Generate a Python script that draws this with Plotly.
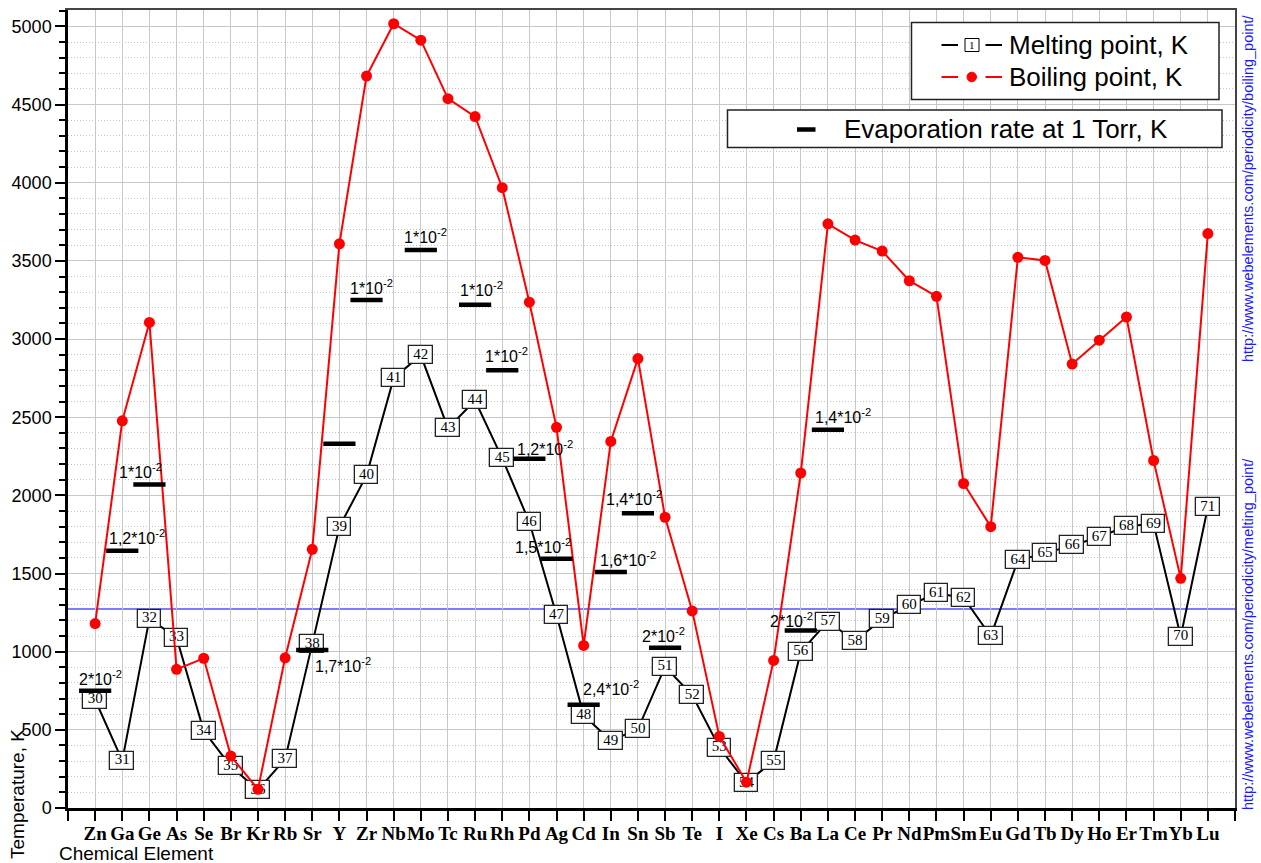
import plotly.graph_objects as go

# ---- data -------------------------------------------------------------
ELEMENTS = ["Zn", "Ga", "Ge", "As", "Se", "Br", "Kr", "Rb", "Sr", "Y", "Zr", "Nb",
            "Mo", "Tc", "Ru", "Rh", "Pd", "Ag", "Cd", "In", "Sn", "Sb", "Te", "I",
            "Xe", "Cs", "Ba", "La", "Ce", "Pr", "Nd", "Pm", "Sm", "Eu", "Gd", "Tb",
            "Dy", "Ho", "Er", "Tm", "Yb", "Lu"]
ATOMIC_NUMBERS = list(range(30, 72))

MELTING_K = [692.7, 302.9, 1211.4, 1090, 494, 265.8, 115.8, 312.5, 1050, 1799,
             2128, 2750, 2896, 2430, 2607, 2237, 1828, 1235, 594.2, 429.8, 505.1,
             903.8, 722.7, 386.9, 161.4, 301.6, 1000, 1193, 1068, 1208, 1297, 1373,
             1345, 1099, 1585, 1629, 1680, 1734, 1802, 1818, 1097, 1925]

BOILING_K = [1180, 2477, 3106, 887, 958, 332, 119.9, 961, 1655, 3609, 4682, 5017,
             4912, 4538, 4423, 3968, 3236, 2435, 1040, 2345, 2875, 1860, 1261, 457.4,
             165.1, 944, 2143, 3737, 3633, 3563, 3373, 3273, 2076, 1800, 3523, 3503,
             2840, 2993, 3141, 2223, 1469, 3675]

# temperature for an evaporation rate at 1 Torr, with the rate mantissa (x10^-2)
EVAP_Z = [30, 31, 32, 38, 39, 40, 42, 44, 45, 46, 47, 48, 49, 50, 51, 56, 57]
EVAP_K = [750, 1645, 2070, 1010, 2330, 3250, 3570, 3220, 2800, 2235, 1595, 660,
          1510, 1885, 1025, 1135, 2420]
EVAP_RATE = ["2", "1,2", "1", "1,7", "", "1", "1", "1", "1", "1,2", "1,5", "2,4",
             "1,6", "1,4", "2", "2", "1,4"]

REF_LINE_K = 1273  # 1000 °C

# ---- layout constants ------------------------------------------------------
W, H = 1261, 863
ML, MR, MT, MB = 68, 26, 10, 55
PW, PH = W - ML - MR, H - MT - MB
X_RANGE = [29, 72]
Y_RANGE = [0, 5105]
BOX_H = 115          # label box height in K
BOX_W = 0.87         # label box width in x units

# offset (px) of each rate label from its dash: right, down
LABEL_SHIFT = [(5, -13), (15, -14), (-9, -13), (31, 15), None, (5, -13), (5, -14),
               (6, -16), (4, -15), (16, -11), (-14, -13), (27, -17), (17, -13),
               (-4, -15), (-2, -13), (-9, -11), (15, -14)]

SANS = "Liberation Sans"
SERIF = "Liberation Serif"


def px_x(x):
    return (x - ML) / PW


def px_y(y):
    return (H - MB - y) / PH


fig = go.Figure()

# melting-point line (base subplot, under the label boxes)
fig.add_trace(go.Scatter(x=ATOMIC_NUMBERS, y=MELTING_K, mode="lines",
                         line=dict(color="black", width=2), showlegend=False))

# label boxes carrying the atomic number
fig.add_trace(go.Bar(x=ATOMIC_NUMBERS, y=[BOX_H] * len(MELTING_K),
                     base=[m - BOX_H / 2 for m in MELTING_K], width=BOX_W,
                     marker=dict(color="white", line=dict(color="#222", width=1.3)),
                     xaxis="x2", yaxis="y2", showlegend=False))
fig.add_trace(go.Scatter(x=ATOMIC_NUMBERS, y=MELTING_K, mode="text",
                         text=[str(z) for z in ATOMIC_NUMBERS],
                         textposition="middle center",
                         textfont=dict(family=SERIF, size=15, color="black"),
                         xaxis="x2", yaxis="y2", showlegend=False))

# boiling points
fig.add_trace(go.Scatter(x=ATOMIC_NUMBERS, y=BOILING_K, mode="lines+markers",
                         line=dict(color="#ff0000", width=2),
                         marker=dict(color="#ff0000", size=11),
                         xaxis="x2", yaxis="y2", showlegend=False))

# evaporation temperatures
fig.add_trace(go.Scatter(x=EVAP_Z, y=EVAP_K, mode="markers",
                         marker=dict(symbol="line-ew", size=23,
                                     line=dict(color="black", width=4.5)),
                         xaxis="x2", yaxis="y2", showlegend=False))

annotations = []
for z, k, rate, shift in zip(EVAP_Z, EVAP_K, EVAP_RATE, LABEL_SHIFT):
    if not rate:
        continue
    annotations.append(dict(x=z, y=k, xref="x", yref="y", showarrow=False,
                            text=f"{rate}*10<sup>-2</sup>",
                            font=dict(family=SANS, size=16, color="black"),
                            xanchor="center", yanchor="middle",
                            xshift=shift[0], yshift=-shift[1]))

# axis titles
annotations.append(dict(x=px_x(57), y=px_y(853), xref="paper", yref="paper",
                        text="Chemical Element", showarrow=False, xanchor="left",
                        yanchor="middle", font=dict(family=SANS, size=19, color="black")))
annotations.append(dict(x=px_x(17), y=px_y(794), xref="paper", yref="paper",
                        text="Temperature, K", showarrow=False, textangle=-90,
                        xanchor="center", yanchor="middle",
                        font=dict(family=SANS, size=19, color="black")))

# source links
for txt, cy in [("http://www.webelements.com/periodicity/boiling_point/", 188),
                ("http://www.webelements.com/periodicity/melting_point/", 634)]:
    annotations.append(dict(x=px_x(1248), y=px_y(cy), xref="paper", yref="paper",
                            text=txt, showarrow=False, textangle=-90,
                            xanchor="center", yanchor="middle",
                            font=dict(family=SANS, size=14.5, color="#1a1aff")))

# legend texts
for txt, lx, ly in [("Melting point, K", 1007, 45), ("Boiling point, K", 1007, 77),
                    ("Evaporation rate at 1 Torr, K", 842, 129)]:
    annotations.append(dict(x=px_x(lx), y=px_y(ly), xref="paper", yref="paper",
                            text=txt, showarrow=False, xanchor="left",
                            yanchor="middle",
                            font=dict(family=SANS, size=26, color="black")))
annotations.append(dict(x=px_x(972), y=px_y(45), xref="paper", yref="paper",
                        text="1", showarrow=False, xanchor="center", yanchor="middle",
                        font=dict(family=SERIF, size=11, color="black")))


def rect(x0, y0, x1, y1, **kw):
    return dict(type="rect", xref="paper", yref="paper", x0=px_x(x0), x1=px_x(x1),
                y0=px_y(y0), y1=px_y(y1), layer="above", **kw)


def seg(x0, y0, x1, y1, color, width):
    return dict(type="line", xref="paper", yref="paper", x0=px_x(x0), x1=px_x(x1),
                y0=px_y(y0), y1=px_y(y1), layer="above",
                line=dict(color=color, width=width))


shapes = [
    dict(type="line", xref="paper", x0=0, x1=1, yref="y", y0=REF_LINE_K,
         y1=REF_LINE_K, layer="between", line=dict(color="rgb(80,80,255)", width=1.5)),
    rect(911.5, 22.5, 1219, 99.5, line=dict(color="#222", width=1.5), fillcolor="white"),
    rect(727.5, 110, 1222, 147.5, line=dict(color="#222", width=1.5), fillcolor="white"),
    seg(941.5, 45, 958, 45, "black", 2),
    seg(985.5, 45, 1002, 45, "black", 2),
    rect(965, 38.5, 979, 51.5, line=dict(color="black", width=1), fillcolor="white"),
    seg(941.5, 77, 958, 77, "#ff0000", 2),
    seg(985.5, 77, 1002, 77, "#ff0000", 2),
    dict(type="circle", xref="paper", yref="paper", x0=px_x(967), x1=px_x(976.5),
         y0=px_y(72.2), y1=px_y(81.8), layer="above", fillcolor="#ff0000",
         line=dict(color="#ff0000", width=1)),
    seg(797, 129.5, 815.5, 129.5, "black", 4.5),
]

fig.update_layout(
    width=W, height=H,
    margin=dict(l=ML, r=MR, t=MT, b=MB, pad=0, autoexpand=False),
    paper_bgcolor="white", plot_bgcolor="white",
    showlegend=False,
    bargap=0,
    xaxis=dict(range=X_RANGE, tickmode="array",
               tickvals=list(range(X_RANGE[0], X_RANGE[1] + 1)),
               ticktext=[""] + ELEMENTS + [""], tickangle=0, automargin=False,
               ticklabelstandoff=-4,
               tickfont=dict(family=SERIF, size=19, color="black", weight="bold"),
               ticks="outside", ticklen=10, tickwidth=2, tickcolor="black",
               showline=True, linecolor="black", linewidth=2.5,
               showgrid=True, gridcolor="#c8c8c8", gridwidth=1, zeroline=False),
    yaxis=dict(range=Y_RANGE, tickmode="linear", tick0=0, dtick=500, automargin=False,
               tickfont=dict(family=SANS, size=18, color="black"),
               ticks="outside", ticklen=10, tickwidth=1.5, tickcolor="black",
               showline=True, linecolor="black", linewidth=2.5,
               showgrid=True, gridcolor="#c8c8c8", gridwidth=1, zeroline=False,
               minor=dict(dtick=100, ticks="outside", ticklen=6, tickwidth=1.5,
                          tickcolor="black", showgrid=True, gridcolor="#c4c4c4",
                          griddash="1px,2px", gridwidth=1)),
    xaxis2=dict(range=X_RANGE, overlaying="x", anchor="y2", side="top",
                showline=True, linecolor="#444", linewidth=1.5, ticks="",
                showticklabels=False, showgrid=False, zeroline=False),
    yaxis2=dict(range=Y_RANGE, overlaying="y", anchor="x2", side="right",
                showline=True, linecolor="#444", linewidth=1.5, ticks="",
                showticklabels=False, showgrid=False, zeroline=False),
    annotations=annotations,
    shapes=shapes,
)

fig.write_html("out.html")
